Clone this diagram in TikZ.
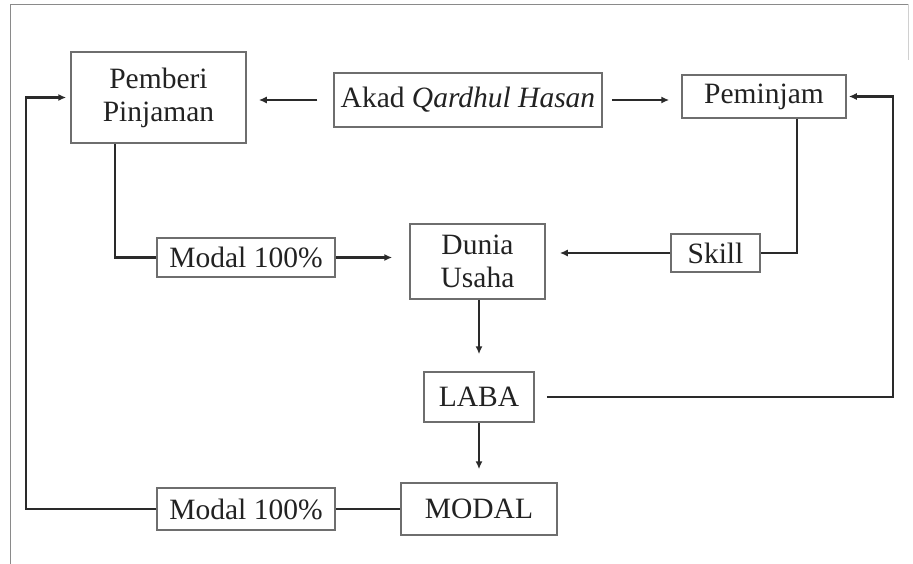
\documentclass[tikz,border=0pt]{standalone}
\usepackage{fontspec}
\setmainfont{Liberation Serif}
\usetikzlibrary{arrows.meta}
\definecolor{txt}{HTML}{222222}
\definecolor{ln}{HTML}{2A2A2A}
\definecolor{bx}{HTML}{6E6E6E}
\definecolor{frm}{HTML}{8A8A8A}
\tikzset{
  box/.style={draw=bx, line width=1.5pt, fill=white, text=txt, inner sep=0pt,
    align=center, font=\fontsize{29.5}{33}\selectfont},
  conn/.style={draw=ln, line width=2.2pt},
  arr/.style={conn, -{Latex[length=8pt,width=7pt]}}
}
\begin{document}
\begin{tikzpicture}[x=1pt,y=-1pt]
\useasboundingbox (0,0) rectangle (913,564);
% outer frame
\draw[frm, line width=1.4pt] (10.5,564) -- (10.5,4.5) -- (908,4.5);
\draw[frm!40, line width=0.8pt] (908,4.5) -- (908,60);

\node[box, minimum width=175pt, minimum height=91pt] (pemberi) at (158.5,97.5) {Pemberi\\Pinjaman};
\node[box, minimum width=268pt, minimum height=54pt] (akad) at (468,100) {Akad \textit{Qardhul Hasan}};
\node[box, minimum width=164pt, minimum height=43pt] (peminjam) at (764,96.5) {Peminjam};
\node[box, minimum width=178pt, minimum height=39pt] (modal1) at (246,257.5) {Modal 100\%};
\node[box, minimum width=135pt, minimum height=75pt] (dunia) at (477.5,261.5) {Dunia\\Usaha};
\node[box, minimum width=89pt, minimum height=38pt] (skill) at (715.5,253) {Skill};
\node[box, minimum width=110pt, minimum height=50pt] (laba) at (479,397) {LABA};
\node[box, minimum width=156pt, minimum height=52pt] (modal) at (479,509) {MODAL};
\node[box, minimum width=178pt, minimum height=42pt] (modal2) at (246,509) {Modal 100\%};

\coordinate (xa) at (115,0);
\coordinate (xb) at (797,0);
\coordinate (xr) at (893,0);
\coordinate (xl) at (26,0);

\draw[arr, shorten <=16pt, shorten >=12pt] (akad.west) -- (akad.west -| pemberi.east);
\draw[arr, shorten <=9pt, shorten >=12pt] (akad.east) -- (akad.east -| peminjam.west);
\draw[conn] (xa |- pemberi.south) |- (modal1.west);
\draw[arr, shorten >=17pt] (modal1.east) -- (modal1.east -| dunia.west);
\draw[conn] (xb |- peminjam.south) |- (skill.east);
\draw[arr, shorten >=14pt] (skill.west) -- (skill.west -| dunia.east);
\draw[arr, shorten >=17pt] (dunia.south -| laba.north) -- (laba.north);
\draw[arr, shorten >=13pt] (laba.south) -- (modal.north);
\draw[arr, shorten <=12pt, shorten >=2pt] (laba.east) -- (laba.east -| xr) -- (xr |- peminjam.east) -- (peminjam.east);
\draw[conn] (modal.west) -- (modal.west -| modal2.east);
\draw[arr, shorten >=4pt] (modal2.west) -- (xl |- modal2.west) -- (xl |- pemberi.west) -- (pemberi.west);
\end{tikzpicture}
\end{document}
